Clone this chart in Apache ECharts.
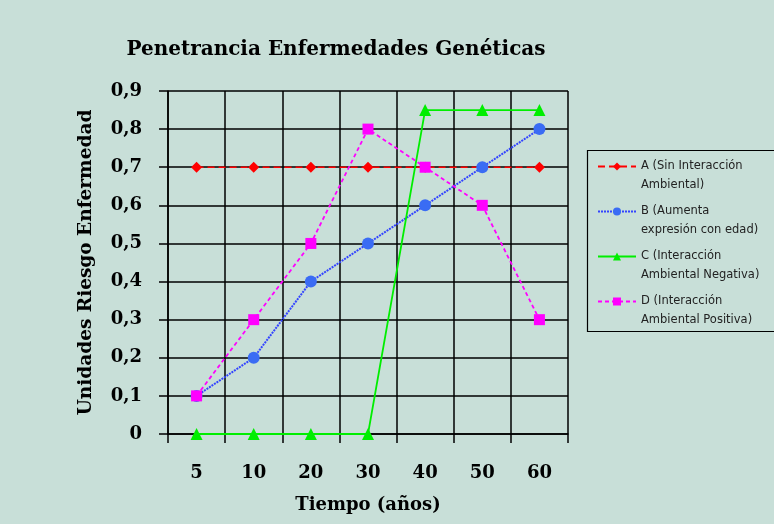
<!DOCTYPE html>
<html><head><meta charset="utf-8">
<script src="https://cdn.jsdelivr.net/npm/echarts@6/dist/echarts.min.js"></script>
<style>html,body{margin:0;padding:0;background:#c8dfd8}#c{width:774px;height:524px}</style>
</head><body><div id="c"></div>
<script>
const categories = ['5','10','20','30','40','50','60'];
const seriesA = [0.7,0.7,0.7,0.7,0.7,0.7,0.7];
const seriesB = [0.1,0.2,0.4,0.5,0.6,0.7,0.8];
const seriesC = [0,0,0,0,0.85,0.85,0.85];
const seriesD = [0.1,0.3,0.5,0.8,0.7,0.6,0.3];
const names = ['A (Sin Interacción\nAmbiental)','B (Aumenta\nexpresión con edad)','C (Interacción\nAmbiental Negativa)','D (Interacción\nAmbiental Positiva)'];
const title = 'Penetrancia Enfermedades Genéticas';
const xName = 'Tiempo (años)';
const yName = 'Unidades Riesgo Enfermedad';

const serif = '"DejaVu Serif","Liberation Serif",serif';
const chart = echarts.init(document.getElementById('c'));
chart.setOption({
  backgroundColor: '#c8dfd8',
  animation: false,
  title: {text: title, left: 331, textAlign: 'center', top: 35,
    textStyle: {fontFamily: serif, fontWeight: 'bold', fontSize: 20, color: '#000'}},
  grid: {left: 168, right: 206, top: 91, bottom: 90, containLabel: false},
  legend: {
    orient: 'vertical', left: 592, top: 133, itemWidth: 38, itemHeight: 10, itemGap: -12,
    textStyle: {fontFamily: '"DejaVu Sans",sans-serif', fontSize: 11.5, color: '#222', lineHeight: 19},
    formatter: n => ' \n' + n,
    data: names
  },
  graphic: [{type: 'rect', shape: {x: 587.5, y: 150.5, width: 200, height: 181},
    style: {fill: 'none', stroke: '#000', lineWidth: 1.2}}],
  xAxis: {
    type: 'category', data: categories, boundaryGap: true,
    name: xName, nameLocation: 'middle', nameGap: 62,
    nameTextStyle: {fontFamily: serif, fontWeight: 'bold', fontSize: 18, color: '#000'},
    axisLine: {lineStyle: {color: '#000', width: 1.5}},
    axisTick: {show: true, length: 9, lineStyle: {color: '#000', width: 1.5}},
    axisLabel: {margin: 30, fontFamily: serif, fontWeight: 'bold', fontSize: 18, color: '#000'},
    splitLine: {show: true, lineStyle: {color: '#000', width: 1.5}}
  },
  yAxis: {
    type: 'value', min: 0, max: 0.9, interval: 0.1,
    name: yName, nameLocation: 'middle', nameGap: 72, nameRotate: 90,
    nameTextStyle: {fontFamily: serif, fontWeight: 'bold', fontSize: 18.5, color: '#000'},
    axisLine: {show: true, lineStyle: {color: '#000', width: 1.5}},
    axisTick: {show: true, length: 9, lineStyle: {color: '#000', width: 1.5}},
    axisLabel: {margin: 26, fontFamily: serif, fontWeight: 'bold', fontSize: 18, color: '#000',
      formatter: v => v === 0 ? '0' : v.toFixed(1).replace('.', ',')},
    splitLine: {show: true, lineStyle: {color: '#000', width: 1.5}}
  },
  series: [
    {name: names[0], type: 'line', data: seriesA, symbol: 'diamond', symbolSize: 11,
      itemStyle: {color: '#ff0000'}, lineStyle: {color: '#ff0000', width: 1.5, type: [7,4]}},
    {name: names[1], type: 'line', data: seriesB, symbol: 'circle', symbolSize: 12,
      itemStyle: {color: '#3a6cf4'}, lineStyle: {color: '#3344ff', width: 2, type: [2,1]}},
    {name: names[2], type: 'line', data: seriesC, symbol: 'triangle', symbolSize: 12,
      itemStyle: {color: '#00ee00'}, lineStyle: {color: '#00ee00', width: 1.8}},
    {name: names[3], type: 'line', data: seriesD, symbol: 'rect', symbolSize: 11,
      itemStyle: {color: '#ff00ff'}, lineStyle: {color: '#ff00ff', width: 1.8, type: [4,3]}}
  ]
});
</script></body></html>
